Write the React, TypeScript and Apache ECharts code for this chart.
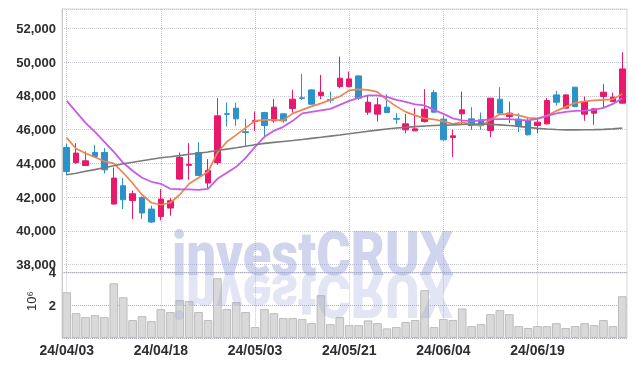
import React, { useEffect, useRef } from 'react';
import * as echarts from 'echarts';

const dates = [
  '24/04/03', '24/04/04', '24/04/05', '24/04/08', '24/04/09', '24/04/11', '24/04/12', '24/04/15', '24/04/16', '24/04/17',
  '24/04/18', '24/04/19', '24/04/22', '24/04/23', '24/04/24', '24/04/25', '24/04/26', '24/04/29', '24/04/30', '24/05/02',
  '24/05/03', '24/05/07', '24/05/08', '24/05/09', '24/05/10', '24/05/13', '24/05/14', '24/05/16', '24/05/17', '24/05/20',
  '24/05/21', '24/05/22', '24/05/23', '24/05/24', '24/05/27', '24/05/28', '24/05/29', '24/05/30', '24/05/31', '24/06/03',
  '24/06/04', '24/06/05', '24/06/07', '24/06/10', '24/06/11', '24/06/12', '24/06/13', '24/06/14', '24/06/17', '24/06/18',
  '24/06/19', '24/06/20', '24/06/21', '24/06/24', '24/06/25', '24/06/26', '24/06/27', '24/06/28', '24/07/01', '24/07/02',
];

// [open, close, low, high]
const ohlc = [
  [44935, 43515, 43300, 45160], [44048, 44604, 43971, 45195], [43870, 44148, 43850, 44700], [44639, 44403, 44367, 45095],
  [44639, 43616, 43400, 44900], [41586, 43124, 41560, 43752], [42669, 41840, 41290, 43124], [41799, 42195, 40699, 42391],
  [41977, 41054, 40699, 42036], [41290, 40521, 40462, 41486], [40852, 41882, 40616, 42474], [41349, 41781, 40894, 41940],
  [43065, 44343, 43020, 44639], [43880, 43940, 43024, 45195], [44639, 43278, 43250, 45255], [42829, 43574, 42533, 44249],
  [44048, 46811, 43911, 47858], [46940, 46900, 46178, 47598], [47266, 46633, 46219, 47598], [45870, 45830, 45036, 46616],
  [46470, 46530, 45923, 47065], [47006, 46237, 45491, 47050], [46515, 47326, 46414, 47799], [46929, 46515, 46397, 46960],
  [47243, 47799, 47006, 48349], [47880, 47840, 47758, 49296], [48349, 47503, 47480, 48380], [48012, 48213, 47799, 49237],
  [47780, 47740, 47562, 48249], [48544, 49041, 48450, 50320], [48544, 49000, 48500, 49432], [49178, 47858, 47757, 49200],
  [47030, 47621, 46870, 48012], [46911, 47462, 46474, 47894], [47326, 47006, 46970, 48095], [46650, 46610, 46337, 46970],
  [45982, 46337, 45787, 46929], [45923, 46042, 45900, 47266], [46474, 47207, 46414, 48391], [48189, 47030, 47000, 48349],
  [46616, 45391, 45330, 46811], [45527, 45627, 44367, 45982], [46929, 47166, 46278, 48249], [46633, 46237, 45982, 47326],
  [46574, 46237, 45982, 47006], [45941, 47858, 45550, 47870], [47799, 46970, 46950, 48509], [46769, 46970, 46379, 47657],
  [46616, 46237, 45846, 46970], [46515, 45687, 45650, 46675], [46237, 46438, 45787, 46675], [46337, 47716, 46300, 47858],
  [48053, 47621, 47420, 48290], [47266, 48053, 47250, 48070], [48509, 47361, 47340, 48530], [46911, 47657, 46515, 47953],
  [46970, 47225, 46278, 47240], [47953, 48213, 47302, 48686], [47657, 47917, 47640, 48189], [47562, 49592, 47540, 50580],
];

const ma5 = [
  45509, 44858, 44592, 44355, 44119, 44000, 43438, 42817, 42136, 41663,
  41545, 41663, 42136, 42787, 43142, 43497, 44621, 45272, 45687, 46101,
  46515, 46574, 46574, 46545, 46959, 47166, 47373, 47550, 47758, 47953,
  48320, 48379, 48349, 48231, 47758, 47373, 47047, 46840, 46663, 46604,
  46485, 46337, 46426, 46308, 46219, 46574, 46900, 46929, 46840, 46692,
  46663, 46811, 47107, 47343, 47580, 47669, 47728, 47758, 47787, 48112,
];

const ma20 = [
  47698, 47047, 46397, 45864, 45272, 44681, 44030, 43556, 43142, 42906,
  42787, 42491, 42462, 42455, 42432, 42491, 43083, 43438, 43793, 44326,
  44977, 45568, 45923, 46160, 46515, 46959, 47047, 47136, 47225, 47462,
  47698, 47876, 48024, 48024, 47935, 47758, 47639, 47491, 47432, 47166,
  46929, 46663, 46545, 46485, 46545, 46604, 46616, 46616, 46574, 46545,
  46633, 46811, 46959, 47047, 47107, 47124, 47166, 47284, 47521, 47846,
];

const ma60 = [
  43320, 43408, 43527, 43627, 43746, 43852, 43971, 44059, 44148, 44237,
  44326, 44385, 44456, 44533, 44592, 44669, 44758, 44840, 44917, 45006,
  45095, 45178, 45237, 45296, 45349, 45408, 45474, 45539, 45610, 45675,
  45746, 45823, 45894, 45965, 46030, 46089, 46130, 46172, 46207, 46237,
  46260, 46278, 46302, 46314, 46320, 46308, 46278, 46243, 46189, 46130,
  46071, 46030, 46000, 45982, 45982, 45985, 45994, 46012, 46042, 46083,
];

// volume in millions of shares
const volume = [
  2.80, 1.52, 1.28, 1.40, 1.28, 3.35, 2.50, 1.10, 1.34, 1.04,
  1.77, 1.59, 2.32, 2.26, 1.59, 1.10, 3.66, 1.77, 2.20, 1.59,
  0.67, 1.77, 1.52, 1.22, 1.22, 1.16, 0.91, 2.62, 0.85, 1.28,
  0.79, 0.79, 1.08, 0.91, 0.59, 0.67, 0.98, 1.10, 2.93, 0.67,
  1.16, 1.10, 1.81, 0.73, 0.85, 1.46, 1.71, 1.46, 0.73, 0.61,
  0.73, 0.73, 0.91, 0.61, 0.73, 0.91, 0.79, 1.10, 0.73, 2.56,
];

const FONT = '"Liberation Sans", Arial, sans-serif';
const MARK_FONT = 'Roboto, "Liberation Sans", Arial, sans-serif';
const UP = '#e8196b';
const DOWN = '#2b93c9';
const GRIDLINE = '#c6c6da';
const LABEL = '#2e2e2e';

export default function App() {
  const ref = useRef<HTMLDivElement>(null);
  useEffect(() => {
    const chart = echarts.init(ref.current as HTMLDivElement, null, { renderer: 'svg' });
    const splitX = {
      show: true,
      interval: 9,
      alignWithLabel: true,
      lineStyle: { color: GRIDLINE, type: 'dotted', width: 1 },
    };
    const option: any = {
      animation: false,
      textStyle: { fontFamily: FONT },
      grid: [
        { left: 62, right: 8, top: 9, height: 263.7, show: true, borderColor: '#d6d6d6', borderWidth: 1 },
        { left: 62, right: 8, top: 272.7, height: 65.3, show: true, borderColor: '#d6d6d6', borderWidth: 1 },
      ],
      xAxis: [
        {
          type: 'category', gridIndex: 0, data: dates, boundaryGap: true,
          axisLine: { show: false }, axisTick: { show: false }, axisLabel: { show: false },
          splitLine: splitX,
        },
        {
          type: 'category', gridIndex: 1, data: dates, boundaryGap: true,
          axisLine: { show: false }, axisTick: { show: false },
          axisLabel: { show: true, interval: 9, fontSize: 14, fontWeight: 'bold', color: LABEL, margin: 5, fontFamily: FONT },
          splitLine: splitX,
        },
      ],
      yAxis: [
        {
          type: 'value', gridIndex: 0, min: 37520, max: 53140, splitNumber: 8, scale: true,
          axisLine: { show: true, lineStyle: { color: '#cccccc' } }, axisTick: { show: false },
          axisLabel: {
            fontSize: 13, fontWeight: 'bold', color: LABEL, margin: 6, fontFamily: FONT,
            formatter: (v: number) => (v % 2000 === 0 ? v.toLocaleString('en-US') : ''),
          },
          splitLine: { show: true, lineStyle: { color: GRIDLINE, type: 'dotted', width: 1 } },
        },
        {
          type: 'value', gridIndex: 1, min: 0, max: 4, interval: 2,
          axisLine: { show: true, lineStyle: { color: '#cccccc' } }, axisTick: { show: false },
          axisLabel: {
            fontSize: 13, fontWeight: 'bold', color: LABEL, margin: 6, fontFamily: FONT,
            formatter: (v: number) => (v === 0 ? '' : String(v)),
          },
          splitLine: { show: true, lineStyle: { color: '#b0b0c0', type: 'dotted', width: 1 } },
        },
      ],
      graphic: [
        {
          type: 'text', x: 31, y: 301, rotation: Math.PI / 2, z: 10,
          style: { text: '10⁶', fontSize: 13, fontFamily: FONT, fill: LABEL, align: 'center', verticalAlign: 'middle' },
        },
        {
          type: 'text', x: 172, y: 285, scaleX: 0.86, z: 100, silent: true,
          style: {
            text: 'investCRUX', fontSize: 61, fontWeight: 900, fontFamily: MARK_FONT,
            fill: 'rgba(150,160,212,0.45)', align: 'left', verticalAlign: 'bottom',
          },
        },
        {
          type: 'text', x: 172, y: 264, scaleX: 0.86, scaleY: -1, z: 100, silent: true,
          style: {
            text: 'investCRUX', fontSize: 61, fontWeight: 900, fontFamily: MARK_FONT,
            fill: 'rgba(150,160,212,0.28)', align: 'left', verticalAlign: 'bottom',
          },
        },
      ],
      series: [
        {
          type: 'candlestick', name: 'price', xAxisIndex: 0, yAxisIndex: 0, data: ohlc, barWidth: 6,
          itemStyle: { color: UP, color0: DOWN, borderColor: UP, borderColor0: DOWN, borderWidth: 1 },
        },
        {
          type: 'line', name: 'MA5', xAxisIndex: 0, yAxisIndex: 0, data: ma5, showSymbol: false,
          lineStyle: { color: '#ef8450', width: 1.7 },
        },
        {
          type: 'line', name: 'MA20', xAxisIndex: 0, yAxisIndex: 0, data: ma20, showSymbol: false,
          lineStyle: { color: '#c65de6', width: 1.8 },
        },
        {
          type: 'line', name: 'MA60', xAxisIndex: 0, yAxisIndex: 0, data: ma60, showSymbol: false,
          lineStyle: { color: '#7a7a7a', width: 1.6 },
        },
        {
          type: 'bar', name: 'volume', xAxisIndex: 1, yAxisIndex: 1, data: volume, barCategoryGap: '8%',
          itemStyle: { color: '#d9d9d9', borderColor: '#bdbdbd', borderWidth: 1 },
        },
      ],
    };
    chart.setOption(option);
    return () => chart.dispose();
  }, []);
  return <div ref={ref} style={{ position: 'fixed', left: 0, top: 0, width: 635, height: 366 }} />;
}
